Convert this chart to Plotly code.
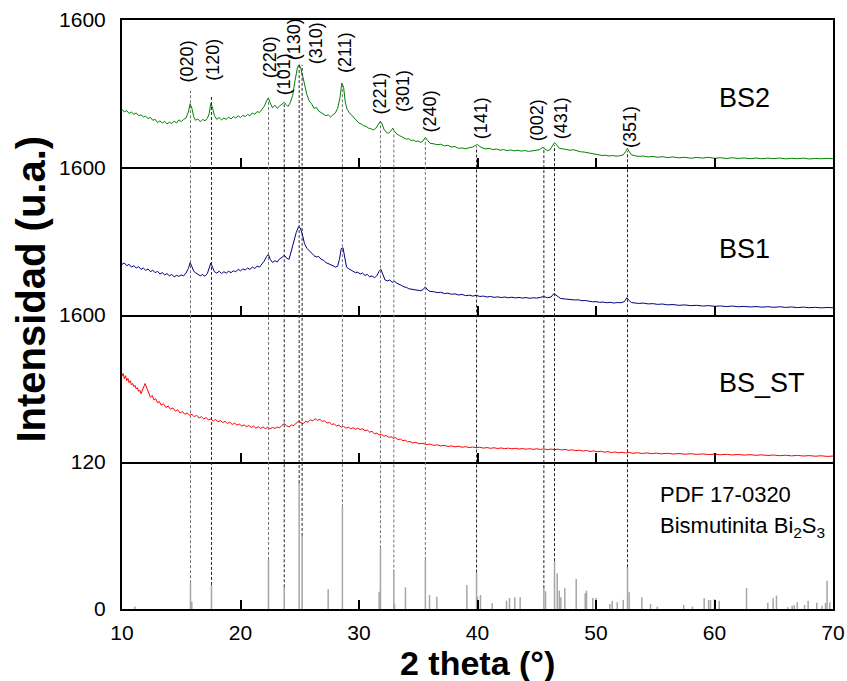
import plotly.graph_objects as go
from plotly.subplots import make_subplots

# ---------------- XRD patterns (2 theta in degrees, intensity in a.u.) ----------------
bs2_theta = [10.0, 10.2, 10.4, 10.6, 10.8, 11.0, 11.2, 11.4, 11.6, 11.8, 12.0, 12.2, 12.4, 12.6, 12.8, 13.0,
             13.2, 13.4, 13.6, 13.8, 14.0, 14.2, 14.4, 14.6, 14.8, 15.0, 15.2, 15.4, 15.6, 15.75, 15.9, 16.05,
             16.2, 16.4, 16.6, 16.8, 17.0, 17.2, 17.35, 17.5, 17.65, 17.8, 18.0, 18.2, 18.4, 18.6, 18.8, 19.0,
             19.2, 19.4, 19.6, 19.8, 20.0, 20.2, 20.4, 20.6, 20.8, 21.0, 21.2, 21.4, 21.6, 21.8, 22.0, 22.2,
             22.35, 22.5, 22.7, 22.9, 23.1, 23.3, 23.5, 23.7, 23.85, 24.0, 24.2, 24.4, 24.6, 24.8, 24.95, 25.1,
             25.25, 25.4, 25.6, 25.8, 26.0, 26.2, 26.4, 26.6, 26.8, 27.0, 27.2, 27.4, 27.6, 27.8, 28.0, 28.2,
             28.4, 28.55, 28.7, 28.85, 29.0, 29.2, 29.4, 29.6, 29.8, 30.0, 30.2, 30.4, 30.6, 30.8, 31.0, 31.2,
             31.4, 31.6, 31.8, 31.95, 32.1, 32.3, 32.5, 32.7, 32.85, 33.0, 33.2, 33.4, 33.6, 33.8, 34.0, 34.2,
             34.4, 34.6, 34.8, 35.0, 35.2, 35.4, 35.6, 35.8, 36.0, 36.3, 36.6, 36.9, 37.2, 37.5, 37.8, 38.1,
             38.4, 38.7, 39.0, 39.3, 39.6, 39.8, 40.0, 40.2, 40.4, 40.7, 41.0, 41.3, 41.6, 41.9, 42.2, 42.5,
             42.8, 43.1, 43.4, 43.7, 44.0, 44.3, 44.6, 44.9, 45.2, 45.5, 45.7, 45.9, 46.1, 46.3, 46.5, 46.7,
             46.9, 47.2, 47.5, 47.8, 48.1, 48.4, 48.7, 49.0, 49.3, 49.6, 49.9, 50.2, 50.5, 50.8, 51.1, 51.4,
             51.7, 52.0, 52.3, 52.5, 52.65, 52.8, 53.0, 53.3, 53.6, 54.0, 54.4, 54.8, 55.2, 55.6, 56.0, 56.5,
             57.0, 57.5, 58.0, 58.5, 59.0, 59.5, 60.0, 60.5, 61.0, 61.5, 62.0, 62.5, 63.0, 63.5, 64.0, 64.5,
             65.0, 65.5, 66.0, 66.5, 67.0, 67.5, 68.0, 68.5, 69.0, 69.5, 70.0]
bs2_counts = [630, 600, 615, 585, 600, 575, 590, 560, 570, 545, 555, 530, 540, 510, 520, 485,
              505, 480, 500, 470, 490, 475, 500, 480, 515, 495, 520, 535, 600, 690, 640, 550,
              510, 525, 495, 520, 505, 530, 580, 695, 640, 560, 520, 540, 515, 535, 520, 545,
              525, 550, 535, 560, 540, 565, 550, 575, 560, 590, 575, 605, 595, 630, 660, 720,
              755, 700, 645, 675, 640, 665, 690, 705, 680, 660, 700, 780, 940, 1080, 1115, 1070,
              990, 890, 790, 720, 690, 640, 650, 610, 595, 580, 560, 570, 545, 570, 590, 640,
              760, 915, 870, 700, 630, 590, 560, 530, 505, 480, 470, 450, 445, 425, 420, 405,
              420, 455, 500, 470, 415, 380, 370, 395, 425, 390, 360, 345, 330, 320, 305, 310,
              290, 295, 280, 285, 270, 285, 325, 290, 260, 255, 245, 250, 232, 238, 220, 225,
              205, 210, 200, 212, 220, 235, 248, 225, 210, 200, 205, 192, 198, 185, 192, 180,
              188, 178, 185, 175, 182, 172, 178, 185, 190, 215, 200, 180, 188, 225, 268, 240,
              205, 200, 192, 185, 190, 175, 168, 165, 158, 150, 140, 135, 128, 130, 122, 128,
              120, 125, 135, 170, 205, 170, 135, 125, 118, 122, 112, 118, 108, 115, 105, 112,
              102, 108, 98, 106, 100, 108, 97, 104, 95, 103, 96, 101, 93, 100, 92, 99,
              94, 100, 91, 97, 93, 99, 90, 96, 92, 97, 93]

bs1_theta = [10.0, 10.2, 10.4, 10.6, 10.8, 11.0, 11.2, 11.4, 11.6, 11.8, 12.0, 12.2, 12.4, 12.6, 12.8, 13.0,
             13.2, 13.4, 13.6, 13.8, 14.0, 14.2, 14.4, 14.6, 14.8, 15.0, 15.2, 15.4, 15.6, 15.75, 15.9, 16.05,
             16.2, 16.4, 16.6, 16.8, 17.0, 17.2, 17.35, 17.5, 17.65, 17.8, 18.0, 18.2, 18.4, 18.6, 18.8, 19.0,
             19.2, 19.4, 19.6, 19.8, 20.0, 20.2, 20.4, 20.6, 20.8, 21.0, 21.2, 21.4, 21.6, 21.8, 22.0, 22.2,
             22.35, 22.5, 22.7, 22.9, 23.1, 23.3, 23.5, 23.7, 23.9, 24.1, 24.3, 24.5, 24.7, 24.9, 25.05, 25.2,
             25.4, 25.6, 25.8, 26.0, 26.2, 26.4, 26.6, 26.8, 27.0, 27.2, 27.4, 27.6, 27.8, 28.0, 28.2, 28.35,
             28.5, 28.65, 28.8, 28.95, 29.1, 29.3, 29.5, 29.7, 29.9, 30.1, 30.3, 30.5, 30.7, 30.9, 31.1, 31.3,
             31.5, 31.7, 31.85, 32.0, 32.2, 32.4, 32.6, 32.8, 33.0, 33.2, 33.4, 33.6, 33.8, 34.0, 34.2, 34.4,
             34.6, 34.8, 35.0, 35.2, 35.4, 35.6, 35.8, 36.0, 36.3, 36.6, 36.9, 37.2, 37.5, 37.8, 38.1, 38.4,
             38.7, 39.0, 39.3, 39.6, 39.9, 40.2, 40.5, 40.8, 41.1, 41.4, 41.7, 42.0, 42.3, 42.6, 42.9, 43.2,
             43.5, 43.8, 44.1, 44.4, 44.7, 45.0, 45.3, 45.6, 45.9, 46.2, 46.45, 46.7, 47.0, 47.3, 47.6, 47.9,
             48.2, 48.5, 48.8, 49.1, 49.4, 49.7, 50.0, 50.3, 50.6, 50.9, 51.2, 51.5, 51.8, 52.1, 52.4, 52.6,
             52.8, 53.0, 53.3, 53.6, 54.0, 54.4, 54.8, 55.2, 55.6, 56.0, 56.5, 57.0, 57.5, 58.0, 58.5, 59.0,
             59.5, 60.0, 60.5, 61.0, 61.5, 62.0, 62.5, 63.0, 63.5, 64.0, 64.5, 65.0, 65.5, 66.0, 66.5, 67.0,
             67.5, 68.0, 68.5, 69.0, 69.5, 70.0]
bs1_counts = [545, 560, 530, 545, 515, 530, 505, 520, 490, 505, 480, 495, 465, 480, 455, 470,
              440, 455, 430, 445, 420, 435, 410, 425, 415, 430, 420, 450, 500, 565, 520, 470,
              455, 440, 420, 435, 415, 445, 500, 560, 510, 465, 450, 470, 445, 465, 450, 470,
              455, 475, 465, 490, 475, 495, 485, 505, 490, 515, 500, 525, 515, 545, 580, 630,
              655, 600, 565, 585, 570, 605, 620, 645, 610, 600, 700, 790, 890, 955, 940, 880,
              770, 720, 690, 660, 640, 625, 630, 600, 590, 565, 555, 540, 530, 515, 525, 600,
              715, 725, 620, 515, 500, 480, 470, 455, 460, 440, 450, 425, 435, 410, 420, 400,
              420, 470, 490, 440, 375, 365, 375, 350, 360, 340, 330, 315, 300, 295, 280, 275,
              268, 270, 262, 258, 270, 300, 265, 250, 248, 238, 242, 228, 232, 220, 224, 212,
              218, 205, 210, 200, 208, 196, 200, 190, 196, 186, 192, 184, 190, 182, 188, 180,
              186, 178, 184, 176, 182, 178, 186, 195, 182, 190, 228, 205, 175, 170, 165, 168,
              158, 160, 150, 152, 142, 138, 140, 132, 135, 128, 132, 125, 130, 128, 140, 182,
              150, 130, 125, 120, 124, 115, 118, 110, 114, 105, 108, 100, 104, 96, 100, 92,
              96, 89, 93, 86, 92, 84, 88, 82, 86, 80, 85, 78, 84, 77, 82, 75,
              80, 74, 78, 72, 76, 73]

bsst_theta = [10.0, 10.1, 10.2, 10.3, 10.4, 10.5, 10.6, 10.7, 10.8, 10.9, 11.0, 11.1, 11.2, 11.3, 11.4, 11.5,
              11.6, 11.7, 11.8, 11.95, 12.1, 12.25, 12.4, 12.55, 12.7, 12.85, 13.0, 13.15, 13.3, 13.5, 13.7, 13.9,
              14.1, 14.3, 14.5, 14.7, 14.9, 15.1, 15.3, 15.5, 15.7, 15.9, 16.1, 16.3, 16.5, 16.7, 16.9, 17.1,
              17.3, 17.5, 17.7, 17.9, 18.1, 18.3, 18.5, 18.7, 18.9, 19.1, 19.3, 19.5, 19.7, 19.9, 20.1, 20.3,
              20.5, 20.7, 20.9, 21.1, 21.3, 21.5, 21.7, 21.9, 22.1, 22.3, 22.5, 22.7, 22.9, 23.1, 23.3, 23.5,
              23.7, 23.9, 24.1, 24.3, 24.5, 24.7, 24.9, 25.1, 25.3, 25.5, 25.7, 25.9, 26.1, 26.3, 26.5, 26.7,
              26.9, 27.1, 27.3, 27.5, 27.7, 27.9, 28.1, 28.3, 28.5, 28.7, 28.9, 29.1, 29.3, 29.5, 29.7, 29.9,
              30.1, 30.3, 30.5, 30.7, 30.9, 31.1, 31.3, 31.5, 31.7, 31.9, 32.1, 32.3, 32.5, 32.7, 32.9, 33.1,
              33.3, 33.5, 33.7, 33.9, 34.1, 34.3, 34.5, 34.8, 35.1, 35.4, 35.7, 36.0, 36.3, 36.6, 36.9, 37.2,
              37.5, 37.8, 38.1, 38.4, 38.7, 39.0, 39.3, 39.6, 39.9, 40.2, 40.5, 40.8, 41.1, 41.4, 41.7, 42.0,
              42.3, 42.6, 42.9, 43.2, 43.5, 43.8, 44.1, 44.4, 44.7, 45.0, 45.3, 45.6, 45.9, 46.2, 46.5, 46.8,
              47.1, 47.4, 47.7, 48.0, 48.3, 48.6, 48.9, 49.2, 49.5, 49.8, 50.1, 50.4, 50.7, 51.0, 51.3, 51.6,
              51.9, 52.2, 52.5, 52.8, 53.1, 53.5, 53.9, 54.3, 54.7, 55.1, 55.5, 56.0, 56.5, 57.0, 57.5, 58.0,
              58.5, 59.0, 59.5, 60.0, 60.5, 61.0, 61.5, 62.0, 62.5, 63.0, 63.5, 64.0, 64.5, 65.0, 65.5, 66.0,
              66.5, 67.0, 67.5, 68.0, 68.5, 69.0, 69.5, 70.0]
bsst_counts = [930, 960, 900, 935, 880, 905, 860, 880, 835, 850, 815, 830, 790, 805, 765, 780,
               740, 770, 800, 850, 800, 740, 700, 720, 670, 685, 640, 655, 615, 630, 590, 605,
               570, 585, 550, 565, 530, 545, 515, 530, 505, 515, 490, 505, 475, 490, 465, 480,
               455, 465, 445, 458, 435, 448, 425, 440, 415, 430, 405, 420, 398, 410, 388, 400,
               380, 395, 372, 388, 365, 380, 362, 378, 360, 375, 358, 372, 362, 378, 368, 395,
               415, 390, 378, 400, 392, 420, 440, 425, 415, 440, 430, 455, 445, 468, 450, 460,
               438, 445, 420, 428, 405, 412, 390, 398, 375, 385, 365, 375, 358, 370, 352, 365,
               350, 358, 338, 345, 322, 330, 305, 312, 292, 298, 278, 285, 265, 272, 255, 262,
               240, 248, 228, 235, 215, 220, 205, 210, 195, 200, 186, 192, 178, 184, 172, 178,
               166, 172, 162, 168, 158, 164, 154, 160, 152, 158, 148, 154, 146, 152, 144, 150,
               142, 148, 140, 146, 138, 144, 136, 142, 135, 141, 133, 140, 131, 138, 132, 137,
               128, 134, 124, 130, 120, 126, 116, 122, 112, 118, 108, 114, 104, 110, 100, 106,
               97, 103, 95, 101, 92, 98, 90, 96, 88, 94, 86, 92, 84, 89, 82, 87,
               80, 85, 78, 83, 76, 81, 74, 79, 72, 77, 70, 75, 68, 73, 66, 71,
               64, 69, 62, 67, 60, 65, 58, 62]

# ---------------- PDF 17-0320 reference lines (relative intensity) ----------------
pdf_theta = [11.08, 15.78, 15.89, 17.55, 22.36, 23.69, 24.95, 25.2, 27.4, 28.6, 31.7, 31.81, 32.94, 33.0,
             33.92, 35.6, 35.95, 36.57, 39.1, 39.92, 40.0, 40.25, 41.24, 42.45, 42.7, 43.15, 43.6, 45.6,
             45.74, 46.5, 46.73, 46.9, 47.03, 47.37, 48.33, 49.09, 49.2, 49.73, 50.0, 51.17, 51.37, 51.79,
             52.3, 52.66, 52.8, 53.87, 54.6, 55.17, 57.4, 58.14, 59.13, 59.5, 59.66, 60.0, 60.4, 62.7,
             64.5, 64.95, 65.23, 66.2, 66.55, 66.73, 66.98, 67.6, 67.9, 68.63, 69.08, 69.37, 69.5, 69.73]
pdf_rel_int = [2, 21, 6, 19.6, 40, 17.7, 102.6, 59.6, 16, 83, 14, 49.5, 29.7, 4,
               17.7, 40, 11.4, 10, 19.6, 29.7, 10, 11.4, 4.6, 6.8, 9, 9.5, 9.5, 17,
               14.4, 39, 29, 15, 9.5, 17, 24.5, 12.8, 15, 9, 9, 4, 6.8, 5.4,
               7.4, 34, 13.6, 9.5, 4, 2, 3.3, 2, 9, 7.4, 7.4, 8, 6.8, 17,
               5, 8.7, 10.9, 1.4, 2.7, 3.3, 5.4, 3.3, 6.8, 5, 2.7, 5, 23, 5.4]

# Miller indices of the indexed reflections, with the top of each guide line (BS2 counts)
hkl_labels = ["(020)", "(120)", "(220)", "(101)", "(130)", "(310)", "(211)",
              "(221)", "(301)", "(240)", "(141)", "(002)", "(431)", "(351)"]
hkl_theta = [15.78, 17.55, 22.36, 23.69, 24.95, 25.2, 28.6, 31.81, 32.94, 35.6, 39.92, 45.6, 46.5, 52.66]
hkl_guide_top = [832, 778, 735, 703, 1135, 1113, 897, 497, 389, 303, 227, 216, 238, 173]
hkl_dark = [False, True, False, True, True, True, False, False, False, False, True, True, True, True]
# label anchor: 2 theta of text centre and paper height of text centre
hkl_text_theta = [15.5, 17.66, 22.45, 23.63, 24.47, 26.39, 28.86, 31.81, 33.65, 35.95, 40.25, 45.04, 47.0, 52.85]
hkl_text_y = [0.930, 0.932, 0.936, 0.907, 0.968, 0.961, 0.945, 0.876, 0.880, 0.844, 0.834, 0.830, 0.834, 0.818]

sample_names = ["BS2", "BS1", "BS_ST"]
sample_colors = ["#008000", "#000080", "#ff0000"]

FONT = "Liberation Sans, Arial, sans-serif"
panel_top = 1600
pdf_top = 120

fig = make_subplots(rows=4, cols=1, shared_xaxes=True, vertical_spacing=0)

patterns = [(bs2_theta, bs2_counts), (bs1_theta, bs1_counts), (bsst_theta, bsst_counts)]
for i, (tx, cy) in enumerate(patterns):
    fig.add_trace(go.Scatter(x=tx, y=cy, mode="lines", name=sample_names[i],
                             line=dict(color=sample_colors[i], width=1)), row=i + 1, col=1)

# reference sticks
sx, sy = [], []
for t, h in zip(pdf_theta, pdf_rel_int):
    sx += [t, t, None]
    sy += [0, h, None]
fig.add_trace(go.Scatter(x=sx, y=sy, mode="lines", name="PDF 17-0320",
                         line=dict(color="#a6a6a6", width=1.5)), row=4, col=1)

axis_common = dict(showline=True, linecolor="black", linewidth=2, showgrid=False, zeroline=False,
                   ticks="inside", tickcolor="black", tickwidth=2, automargin=False,
                   tickfont=dict(family=FONT, size=21, color="black"))

for r in range(1, 5):
    fig.update_xaxes(range=[10, 70], dtick=10, tick0=10, ticklen=9, mirror=(r == 1),
                     **axis_common, row=r, col=1)
for r in range(1, 4):
    fig.update_yaxes(range=[0, panel_top], tickvals=[panel_top], ticktext=[str(panel_top)],
                     ticklen=10, mirror="ticks", ticklabelstandoff=10, **axis_common, row=r, col=1)
fig.update_yaxes(range=[0, pdf_top], tickvals=[0, pdf_top], ticklen=10, mirror="ticks",
                 ticklabelstandoff=10, **axis_common, row=4, col=1)
fig.update_xaxes(showticklabels=True, ticklabelstandoff=4, row=4, col=1)

# guide lines from the BS2 peaks down to the reference sticks
y4_dom = fig.layout.yaxis4.domain
y1_dom = fig.layout.yaxis.domain
shapes = []
for t, top, dark in zip(hkl_theta, hkl_guide_top, hkl_dark):
    stick_h = pdf_rel_int[pdf_theta.index(t)]
    y_low = y4_dom[0] + (y4_dom[1] - y4_dom[0]) * stick_h / pdf_top
    y_high = y1_dom[0] + (y1_dom[1] - y1_dom[0]) * top / panel_top
    shapes.append(dict(type="line", xref="x", yref="paper", x0=t, x1=t, y0=y_low, y1=y_high,
                       line=dict(color="#222222" if dark else "#707070", width=1, dash="3px,2px")))
fig.update_layout(shapes=shapes)

annotations = []
for lab, tx, ty in zip(hkl_labels, hkl_text_theta, hkl_text_y):
    annotations.append(dict(x=tx, y=ty, xref="x", yref="paper", text=lab, showarrow=False,
                            textangle=-90, xanchor="center", yanchor="middle",
                            font=dict(family=FONT, size=18, color="black")))

# sample names
name_y = [0.867, 0.611, 0.384]
for name, ny in zip(sample_names, name_y):
    annotations.append(dict(x=60.2, y=ny, xref="x", yref="paper", text=name, showarrow=False,
                            xanchor="left", yanchor="middle",
                            font=dict(family=FONT, size=27, color="black")))

annotations.append(dict(x=55.2, y=0.195, xref="x", yref="paper", text="PDF 17-0320",
                        showarrow=False, xanchor="left", yanchor="middle",
                        font=dict(family=FONT, size=22, color="black")))
annotations.append(dict(x=55.2, y=0.14, xref="x", yref="paper",
                        text="Bismutinita Bi<sub>2</sub>S<sub>3</sub>",
                        showarrow=False, xanchor="left", yanchor="middle",
                        font=dict(family=FONT, size=22, color="black")))

# axis titles
annotations.append(dict(x=-0.128, y=0.544, xref="paper", yref="paper", text="<b>Intensidad (u.a.)</b>",
                        showarrow=False, textangle=-90, xanchor="center", yanchor="middle",
                        font=dict(family=FONT, size=40, color="black")))
annotations.append(dict(x=0.5, y=-0.091, xref="paper", yref="paper", text="<b>2 theta (°)</b>",
                        showarrow=False, xanchor="center", yanchor="middle", borderpad=0,
                        font=dict(family=FONT, size=34, color="black")))

fig.update_layout(annotations=annotations, width=847, height=681, showlegend=False,
                  paper_bgcolor="white", plot_bgcolor="white",
                  margin=dict(l=122, r=14, t=20, b=72, autoexpand=False))

fig.write_html("out.html")
